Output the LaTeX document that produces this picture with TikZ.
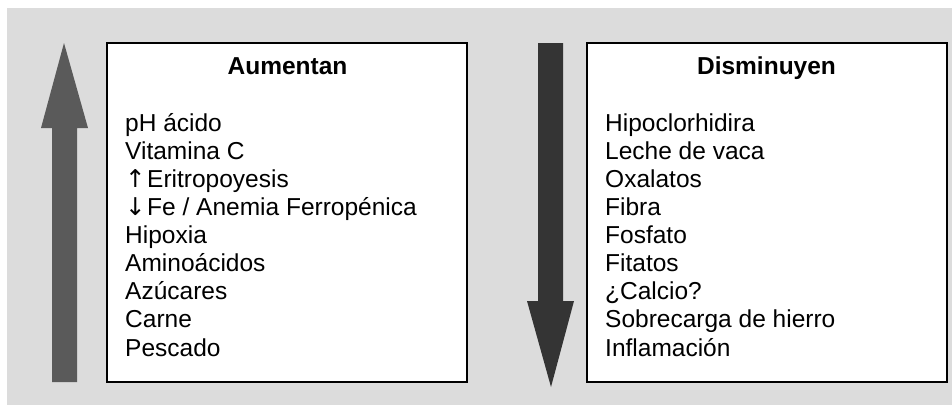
\documentclass[tikz,border=0pt]{standalone}
\usepackage{fontspec}
\setmainfont{Liberation Sans}
\newfontfamily\arrowfont{DejaVu Sans}
\definecolor{bggray}{HTML}{DCDCDC}
\definecolor{upgray}{HTML}{5A5A5A}
\definecolor{downgray}{HTML}{343434}
\newcommand{\uparr}{\makebox[22pt][l]{\arrowfont ↑}}
\newcommand{\downarr}{\makebox[22pt][l]{\arrowfont ↓}}
\tikzset{
  listbox/.style={draw=black, line width=1.6pt, fill=white, rectangle, inner sep=0pt},
  boxtitle/.style={font=\fontsize{24.5}{28}\selectfont\bfseries, inner sep=0pt, anchor=base},
  listitem/.style={font=\fontsize{24.5}{28}\selectfont, inner sep=0pt, anchor=base west},
}
\begin{document}
\begin{tikzpicture}[x=1pt,y=-1pt]
\useasboundingbox (0,0) rectangle (952,405);
\fill[bggray] (7,8) rectangle (952,405);
% arrows
\fill[upgray] (64,43) -- (88,128) -- (77,128) -- (77,382) -- (52,382) -- (52,128) -- (41,128) -- cycle;
\fill[downgray] (551,387) -- (574,301) -- (563,301) -- (563,43) -- (538,43) -- (538,301) -- (527,301) -- cycle;
% boxes
\node[listbox, minimum width=360pt, minimum height=339pt] (boxL) at (287,212.5) {};
\node[listbox, minimum width=360pt, minimum height=339pt] (boxR) at (767,212.5) {};
\node[boxtitle] (tL) at (287.5,74) {Aumentan};
\node[boxtitle] (tR) at (766.5,74) {Disminuyen};
\foreach \t [count=\i] in {pH ácido, Vitamina C, \uparr Eritropoyesis, \downarr Fe / Anemia Ferropénica, Hipoxia, Aminoácidos, Azúcares, Carne, Pescado}
  \node[listitem] (l\i) at (125,{131+(\i-1)*28.125}) {\t};
\foreach \t [count=\i] in {Hipoclorhidira, Leche de vaca, Oxalatos, Fibra, Fosfato, Fitatos, ¿Calcio?, Sobrecarga de hierro, Inflamación}
  \node[listitem] (r\i) at (605,{131+(\i-1)*28.125}) {\t};
\end{tikzpicture}
\end{document}
